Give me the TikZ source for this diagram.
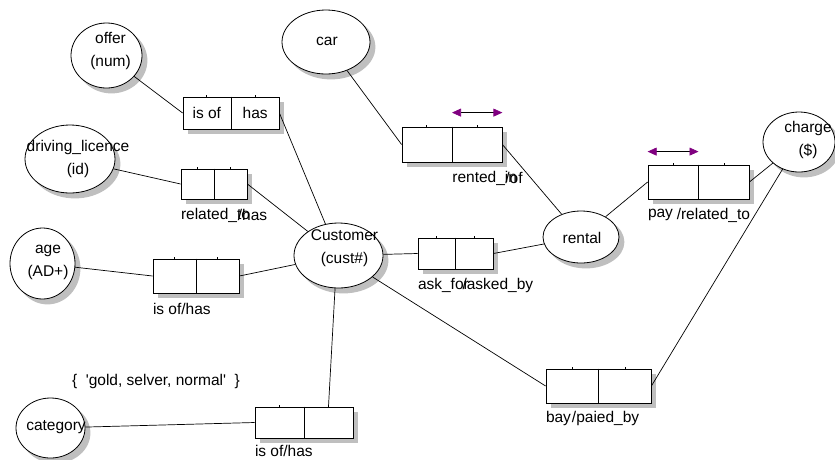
\documentclass[tikz,border=0pt]{standalone}
\usepackage{fontspec}
\setmainfont{Liberation Sans}
\usetikzlibrary{positioning,calc,shapes.geometric,backgrounds,arrows.meta}
\definecolor{ormPurple}{HTML}{800080}

\begin{document}
\begin{tikzpicture}[
    x=1pt, y=1pt,
    line width=0.8pt,
    txt/.style={
        inner sep=0pt,
        align=center,
        font=\fontsize{15.5}{23}\selectfont,
    },
    entity/.style={
        ellipse,
        draw,
        fill=white,
        inner sep=0pt,
    },
    fact/.style={
        rectangle,
        draw,
        fill=white,
        inner sep=0pt,
    },
    shadowfill/.style={fill=black!25, draw=none},
    link/.style={line width=0.7pt},
    uniq/.style={
        {Triangle[length=9pt,width=8pt,color=ormPurple]}-{Triangle[length=9pt,width=8pt,color=ormPurple]},
        line width=0.7pt,
    },
]
    \useasboundingbox (0,0) rectangle (835,-459);

    % === Entities ===
    \node[entity, minimum width=71pt, minimum height=65pt,
        label={[txt, xshift=4pt, yshift=5pt]center:offer\\(num)}] (offer) at (106.5,-55.5) {};
    \node[entity, minimum width=90pt, minimum height=68pt,
        label={[txt, xshift=8pt]center:driving\_licence\\(id)}] (drv) at (70,-159) {};
    \node[entity, minimum width=88pt, minimum height=64pt,
        label={[txt, xshift=1pt, yshift=1pt]center:car}] (car) at (326,-42) {};
    \node[entity, minimum width=76pt, minimum height=52pt,
        label={[txt, xshift=1pt, yshift=-1pt]center:rental}] (rental) at (581,-237) {};
    \node[entity, minimum width=72pt, minimum height=60pt,
        label={[txt, xshift=9pt, yshift=2pt]center:charge\\(\$)}] (charge) at (799,-142) {};
    \node[entity, minimum width=65pt, minimum height=71pt,
        label={[txt, xshift=5.5pt, yshift=1pt]center:age\\(AD+)}] (age) at (42.5,-263.5) {};
    \node[entity, minimum width=89pt, minimum height=65pt,
        label={[txt, xshift=6pt, yshift=7pt]center:Customer\\(cust\#)}] (cust) at (338.5,-255.5) {};
    \node[entity, minimum width=69pt, minimum height=60pt,
        label={[txt, xshift=5.5pt, yshift=1pt]center:category}] (cat) at (50.5,-428) {};

    % === Fact boxes ===
    \node[fact, minimum width=96pt,  minimum height=32pt] (isof)  at (231,-113) {};
    \node[fact, minimum width=66pt,  minimum height=30pt] (relat) at (214,-184) {};
    \node[fact, minimum width=86pt,  minimum height=34pt] (isage) at (196,-276) {};
    \node[fact, minimum width=98pt,  minimum height=31pt] (iscat) at (304,-422.5) {};
    \node[fact, minimum width=75pt,  minimum height=31pt] (askf)  at (455.5,-253.5) {};
    \node[fact, minimum width=100pt, minimum height=35pt] (rent)  at (452,-144.5) {};
    \node[fact, minimum width=101pt, minimum height=34pt] (payr)  at (698.5,-182) {};
    \node[fact, minimum width=105pt, minimum height=34pt] (bayp)  at (598.5,-386) {};

    % shadows
    \begin{scope}[on background layer]
        \foreach \e in {offer,drv,car,rental,charge,age,cust,cat}
            \path[shadowfill] let \p1=($(\e.east)-(\e.center)$), \p2=($(\e.north)-(\e.center)$) in
                ([shift={(5,-5)}]\e.center) ellipse [x radius=\x1, y radius=\y2];
        \foreach \f in {isof,relat,isage,iscat,askf,rent,payr,bayp}
            \path[shadowfill] ([shift={(5,-5)}]\f.south west) rectangle ([shift={(5,-5)}]\f.north east);
    \end{scope}

    % dividers and ticks
    \foreach \f in {isof,relat,isage,iscat,askf,rent,payr,bayp}{
        \draw[link] (\f.north) -- (\f.south);
        \draw[link] ($(\f.north west)!.25!(\f.north east)$) -- ++(0,2);
        \draw[link] ($(\f.north west)!.75!(\f.north east)$) -- ++(0,2);
    }

    \node[txt] (isof-a) at ($(isof.west)!.5!(isof.center)$) {is of};
    \node[txt] (isof-b) at ($(isof.east)!.5!(isof.center)$) {has};

    % Readings
    \node[txt, anchor=west] (relat-a) at ($(relat.south west)+(0,-16)$) {related\_to};
    \node[txt, anchor=east] (relat-b) at ($(relat.south west)+(87,-16)$) {/has};
    \node[txt, anchor=west] (isage-a) at ($(isage.south west)+(0,-16)$) {is of/has};
    \node[txt, anchor=west] (iscat-a) at ($(iscat.south west)+(0,-13)$) {is of/has};
    \node[txt, anchor=west] (askf-a)  at ($(askf.south west)+(0,-16)$) {ask\_for};
    \node[txt, anchor=east] (askf-b)  at ($(askf.south west)+(116,-16)$) {/asked\_by};
    \node[txt, anchor=west] (rent-a)  at ($(rent.south)+(0,-16)$) {rented\_in};
    \node[txt, anchor=east] (rent-b)  at ($(rent.south)+(71,-16)$) {/of};
    \node[txt, anchor=west] (payr-a)  at ($(payr.south west)+(0,-16)$) {pay};
    \node[txt, anchor=east] (payr-b)  at ($(payr.south east)+(1,-16)$) {/related\_to};
    \node[txt, anchor=west] (bayp-a)  at ($(bayp.south west)+(0,-15)$) {bay};
    \node[txt, anchor=east] (bayp-b)  at ($(bayp.south west)+(94,-15)$) {/paied\_by};

    % value constraint
    \node[txt] (catval) at (156,-381) {\{~~\textquotesingle gold, selver, normal\textquotesingle~~\}};

    % Uniqueness arrows
    \draw[uniq] ([yshift=14pt]rent.north) -- ([yshift=14pt]rent.north east);
    \draw[uniq] ([yshift=13pt]payr.north west) -- ([yshift=13pt]payr.north);

    % Roles
    \draw[link] (offer) -- (isof.west);
    \draw[link] (isof.east) -- (cust);
    \draw[link] (drv) -- (relat.west);
    \draw[link] (relat.east) -- (cust);
    \draw[link] (age) -- (isage.west);
    \draw[link] (isage.east) -- (cust);
    \draw[link] (cat) -- (iscat.west);
    \draw[link] (cust.264) -- (iscat.33);
    \draw[link] (cust) -- (askf.west);
    \draw[link] (askf.east) -- (rental);
    \draw[link] (cust) -- (bayp.west);
    \draw[link] (bayp.east) -- (charge);
    \draw[link] (car) -- (rent.west);
    \draw[link] (rent.east) -- (rental);
    \draw[link] (rental) -- (payr.west);
    \draw[link] (payr.east) -- (charge);

\end{tikzpicture}
\end{document}
